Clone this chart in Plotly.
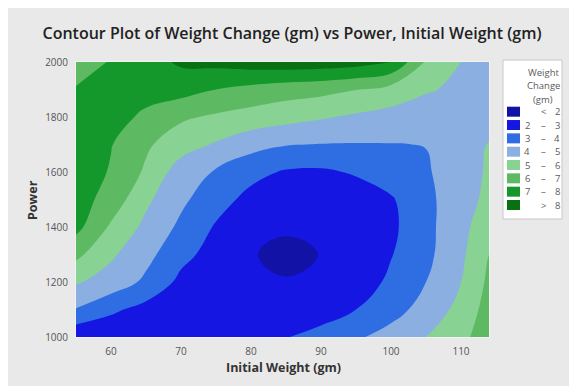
import plotly.graph_objects as go

# ---- data ----
initial_weight = [55, 60, 65, 70, 75, 80, 85, 90, 95, 100, 105, 110, 115]
power = [1000, 1100, 1200, 1300, 1400, 1500, 1600, 1700, 1800, 1900, 2000]

# weight change (gm), one row per power value (bottom to top)
wc_1000 = [2.2, 2.2, 2.2, 2.25, 2.25, 2.4, 2.95, 3.4, 3.85, 4.4, 5.0, 5.75, 6.7]
wc_1100 = [3.95, 3.2, 2.65, 2.35, 2.25, 2.2, 2.25, 2.45, 3.0, 3.6, 4.4, 5.3, 6.7]
wc_1200 = [5.1, 4.6, 3.8, 2.75, 2.3, 2.1, 2.05, 2.15, 2.45, 3.2, 4.0, 5.0, 6.5]
wc_1300 = [6.25, 5.15, 4.3, 3.3, 2.6, 2.05, 1.8, 2.02, 2.3, 2.95, 3.75, 4.8, 6.3]
wc_1400 = [7.3, 5.85, 4.75, 3.8, 2.9, 2.3, 2.1, 2.1, 2.35, 2.8, 3.7, 4.75, 5.7]
wc_1500 = [7.45, 6.6, 5.2, 4.2, 3.4, 2.7, 2.4, 2.35, 2.5, 2.9, 3.75, 4.6, 5.4]
wc_1600 = [7.7, 6.9, 5.85, 4.5, 3.9, 3.3, 2.9, 2.85, 3.1, 3.5, 3.9, 4.5, 5.3]
wc_1700 = [7.8, 7.05, 6.15, 5.45, 4.9, 4.35, 4.05, 3.97, 3.95, 3.97, 4.02, 4.6, 5.15]
wc_1800 = [7.9, 7.6, 6.7, 6.15, 5.85, 5.6, 5.35, 5.1, 4.85, 4.65, 4.5, 4.45, 4.5]
wc_1900 = [7.1, 7.5, 7.6, 7.4, 7.0, 6.7, 6.45, 6.3, 6.03, 5.6, 5.1, 4.8, 4.6]
wc_2000 = [6.3, 7.1, 7.6, 8.15, 8.3, 8.5, 8.6, 8.55, 8.4, 8.0, 5.9, 5.0, 4.6]
weight_change = [wc_1000, wc_1100, wc_1200, wc_1300, wc_1400, wc_1500,
                 wc_1600, wc_1700, wc_1800, wc_1900, wc_2000]

x_ticks = [60, 70, 80, 90, 100, 110]
y_ticks = [1000, 1200, 1400, 1600, 1800, 2000]

band_left = ["", "2", "3", "4", "5", "6", "7", ""]
band_mid = ["<", "–", "–", "–", "–", "–", "–", ">"]
band_right = ["2", "3", "4", "5", "6", "7", "8", "8"]
band_colors = ["#1212a6", "#1616e2", "#2e6ee2", "#8aafe0",
               "#88d294", "#5db962", "#14982b", "#0a7014"]

# page is offset by the 8px body margin
OFF = 8
W, H = 577 - OFF, 386 - OFF
L, R, T, B = 68, 88, 54, 49
PW, PH = W - L - R, H - T - B


def px(x):  # page x -> paper
    return (x - OFF - L) / PW


def py(y):  # page y -> paper
    return (H - B - (y - OFF)) / PH


fig = go.Figure(go.Contour(
    x=initial_weight, y=power, z=weight_change,
    contours=dict(start=2, end=8, size=1, coloring="fill", showlines=False),
    colorscale=[[i / 7, c] for i, c in enumerate(band_colors)],
    line=dict(width=0, smoothing=1.3),
    showscale=False, hoverinfo="skip",
))

LEG = dict(color="#5a5a5a", family="Open Sans")
shapes = [
    dict(type="rect", xref="paper", yref="paper",
         x0=px(503), x1=px(562), y0=py(219), y1=py(60),
         fillcolor="white", line=dict(color="#c8c8c8", width=1)),
]
annotations = []
for t, yy in [("Weight", 72), ("Change", 85), ("(gm)", 99)]:
    annotations.append(dict(text=t, xref="paper", yref="paper", x=px(543), y=py(yy),
                            showarrow=False, xanchor="center", yanchor="middle",
                            font=dict(size=9.5, **LEG)))
for i, c in enumerate(band_colors):
    yc = 111.7 + i * 13.33
    shapes.append(dict(type="rect", xref="paper", yref="paper",
                       x0=px(507), x1=px(520), y0=py(yc + 5), y1=py(yc - 5),
                       fillcolor=c, line=dict(width=0)))
    for txt, xx in [(band_left[i], 527), (band_mid[i], 543), (band_right[i], 557)]:
        if txt:
            annotations.append(dict(text=txt, xref="paper", yref="paper", x=px(xx), y=py(yc),
                                    showarrow=False, xanchor="center", yanchor="middle",
                                    font=dict(size=9.5, **LEG)))

annotations.append(dict(text="<b>Initial Weight (gm)</b>", xref="paper", yref="paper",
                        x=px(283), y=py(367), showarrow=False, xanchor="center", yanchor="middle",
                        font=dict(size=12.5, color="#333333", family="Open Sans")))
annotations.append(dict(text="<b>Power</b>", xref="paper", yref="paper", textangle=-90,
                        x=px(32), y=py(200), showarrow=False, xanchor="center", yanchor="middle",
                        font=dict(size=12.5, color="#333333", family="Open Sans")))

fig.update_layout(
    width=W, height=H, autosize=False,
    margin=dict(l=L, r=R, t=T, b=B),
    paper_bgcolor="#e9e9e9", plot_bgcolor="white",
    title=dict(text="Contour Plot of Weight Change (gm) vs Power, Initial Weight (gm)",
               x=(292 - OFF) / W, xref="container", xanchor="center",
               y=1 - (33 - OFF) / H, yref="container", yanchor="middle",
               font=dict(size=16, color="#222222", family="Open Sans", weight=600)),
    shapes=shapes, annotations=annotations,
    xaxis=dict(range=[55, 114], tickvals=x_ticks, showgrid=False, zeroline=False,
               ticks="", ticklabelstandoff=5, showline=True, mirror=True,
               linecolor="#f2f2f2", linewidth=1,
               tickfont=dict(size=10, color="#555555", family="Open Sans")),
    yaxis=dict(range=[1000, 2000], tickvals=y_ticks, showgrid=False, zeroline=False,
               ticks="", ticklabelstandoff=5, showline=True, mirror=True,
               linecolor="#f2f2f2", linewidth=1,
               tickfont=dict(size=10, color="#555555", family="Open Sans")),
)

fig.write_html("out.html")
